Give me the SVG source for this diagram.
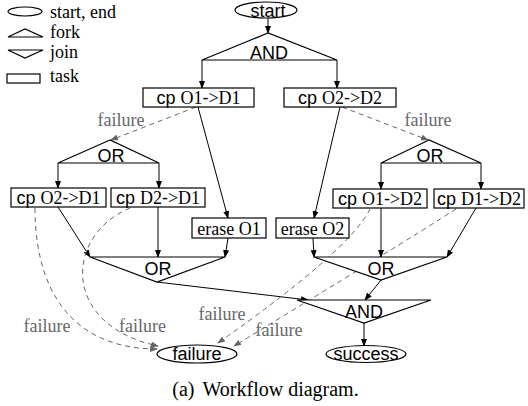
<svg xmlns="http://www.w3.org/2000/svg" width="528" height="406" viewBox="0 0 528 406">
<style>
.sh{fill:#fff;stroke:#000;stroke-width:1.2}
.ln{fill:none;stroke:#000;stroke-width:1}
.dl{fill:none;stroke:#666;stroke-width:1;stroke-dasharray:5,4}
.ss{font-family:"Liberation Sans",Arial,sans-serif;font-size:18px;fill:#000;text-anchor:middle}
.sf{font-family:"Liberation Serif","Times New Roman","DejaVu Serif",serif}
.tb{font-family:"Liberation Sans",Arial,sans-serif;font-size:18px;fill:#000;text-anchor:middle}
.er{font-family:"Liberation Serif","Times New Roman","DejaVu Serif",serif;font-size:18px;fill:#000;text-anchor:middle}
.lg{font-family:"Liberation Serif","Times New Roman","DejaVu Serif",serif;font-size:18px;fill:#000}
.fl{font-family:"Liberation Serif","Times New Roman","DejaVu Serif",serif;font-size:18px;fill:#666;text-anchor:middle}
.cap{font-family:"Liberation Serif","Times New Roman","DejaVu Serif",serif;font-size:20px;fill:#000;text-anchor:middle}
</style>
<defs>
<marker id="a" markerWidth="8" markerHeight="6" refX="7" refY="3" orient="auto" markerUnits="userSpaceOnUse"><path d="M0,0 L8,3 L0,6 z" fill="#000"/></marker>
<marker id="g" markerWidth="8" markerHeight="6" refX="7" refY="3" orient="auto" markerUnits="userSpaceOnUse"><path d="M0,0 L8,3 L0,6 z" fill="#666"/></marker>
</defs>

<g id="legend">
<ellipse class="sh" cx="25" cy="11.5" rx="17" ry="4.5"/>
<text class="lg" x="50" y="18">start, end</text>
<polygon class="sh" points="8,37 25,29 43,37"/>
<text class="lg" x="50" y="38">fork</text>
<polygon class="sh" points="8,50 43,50 25,58"/>
<text class="lg" x="50" y="58">join</text>
<rect class="sh" x="7" y="74" width="33" height="9"/>
<text class="lg" x="50" y="82">task</text>
</g>

<g id="connectors">
<line class="ln" x1="268" y1="18" x2="268" y2="33" marker-end="url(#a)"/>
<line class="ln" x1="202" y1="60" x2="202" y2="88" marker-end="url(#a)"/>
<line class="ln" x1="337" y1="60" x2="337" y2="88" marker-end="url(#a)"/>
<line class="ln" x1="198" y1="107" x2="228" y2="218" marker-end="url(#a)"/>
<line class="ln" x1="340" y1="107" x2="314" y2="218" marker-end="url(#a)"/>
<line class="dl" x1="196" y1="107" x2="111" y2="140" marker-end="url(#g)"/>
<line class="dl" x1="342" y1="107" x2="428" y2="140" marker-end="url(#g)"/>
<line class="ln" x1="58" y1="163" x2="58" y2="188" marker-end="url(#a)"/>
<line class="ln" x1="159" y1="163" x2="159" y2="188" marker-end="url(#a)"/>
<line class="ln" x1="381" y1="163" x2="381" y2="189" marker-end="url(#a)"/>
<line class="ln" x1="481" y1="163" x2="481" y2="189" marker-end="url(#a)"/>
<line class="ln" x1="58" y1="207" x2="90" y2="257" marker-end="url(#a)"/>
<line class="ln" x1="158" y1="207" x2="158" y2="257" marker-end="url(#a)"/>
<line class="ln" x1="228" y1="238" x2="225" y2="257" marker-end="url(#a)"/>
<line class="ln" x1="313" y1="238" x2="314" y2="257" marker-end="url(#a)"/>
<line class="ln" x1="381" y1="208" x2="381" y2="257" marker-end="url(#a)"/>
<line class="ln" x1="476" y1="208" x2="447" y2="257" marker-end="url(#a)"/>
<line class="ln" x1="381" y1="280" x2="365" y2="300" marker-end="url(#a)"/>
<line class="ln" x1="157" y1="282" x2="308" y2="300" marker-end="url(#a)"/>
<line class="ln" x1="364" y1="323" x2="364" y2="346" marker-end="url(#a)"/>
<path class="dl" d="M35,208 C35,300 80,349 157,349" marker-end="url(#g)"/>
<path class="dl" d="M130,208 C65,235 60,325 158,346" marker-end="url(#g)"/>
<path class="dl" d="M370,209 Q350,250 218,343" marker-end="url(#g)"/>
<path class="dl" d="M456,209 Q400,245 234,346" marker-end="url(#g)"/>
<text class="fl" x="121" y="126">failure</text>
<text class="fl" x="428" y="126">failure</text>
<text class="fl" x="47" y="332">failure</text>
<text class="fl" x="142.5" y="332">failure</text>
<text class="fl" x="222" y="320">failure</text>
<text class="fl" x="279" y="336">failure</text>
</g>

<g id="start"><ellipse class="sh" cx="266" cy="10" rx="31" ry="8"/><text class="ss" x="268" y="16.5">start</text></g>
<g id="and-fork"><polygon class="sh" points="268,33 202,60 337,60"/><text class="ss" x="269" y="58.5">AND</text></g>
<g id="cp-o1-d1"><rect class="sh" x="143" y="88" width="111" height="19"/><text class="tb" x="198.5" y="104">cp <tspan class="sf">O1</tspan>-<tspan class="sf">&gt;D1</tspan></text></g>
<g id="cp-o2-d2"><rect class="sh" x="284" y="88" width="112" height="19"/><text class="tb" x="340" y="104">cp <tspan class="sf">O2</tspan>-<tspan class="sf">&gt;D2</tspan></text></g>
<g id="or-fork-left"><polygon class="sh" points="110,140 58,163 159,163"/><text class="ss" x="111" y="162">OR</text></g>
<g id="or-fork-right"><polygon class="sh" points="429,140 381,163 481,163"/><text class="ss" x="430" y="162">OR</text></g>
<g id="cp-o2-d1"><rect class="sh" x="11" y="188" width="95" height="19"/><text class="tb" x="58.5" y="204">cp <tspan class="sf">O2</tspan>-<tspan class="sf">&gt;D1</tspan></text></g>
<g id="cp-d2-d1"><rect class="sh" x="111" y="188" width="94" height="19"/><text class="tb" x="158" y="204">cp <tspan class="sf">D2</tspan>-<tspan class="sf">&gt;D1</tspan></text></g>
<g id="cp-o1-d2"><rect class="sh" x="333" y="189" width="94" height="19"/><text class="tb" x="380" y="205">cp <tspan class="sf">O1</tspan>-<tspan class="sf">&gt;D2</tspan></text></g>
<g id="cp-d1-d2"><rect class="sh" x="434" y="189" width="90" height="19"/><text class="tb" x="479" y="205">cp <tspan class="sf">D1</tspan>-<tspan class="sf">&gt;D2</tspan></text></g>
<g id="erase-o1"><rect class="sh" x="192" y="218" width="74" height="20"/><text class="er" x="229" y="235">erase O1</text></g>
<g id="erase-o2"><rect class="sh" x="276" y="218" width="73" height="20"/><text class="er" x="312.5" y="235">erase O2</text></g>
<g id="or-join-left"><polygon class="sh" points="90,257 225,257 157,282"/><text class="ss" x="158" y="275">OR</text></g>
<g id="or-join-right"><polygon class="sh" points="314,257 447,257 381,280"/><text class="ss" x="381" y="275">OR</text></g>
<g id="and-join"><polygon class="sh" points="297,300 431,300 364,323"/><text class="ss" x="364" y="318">AND</text></g>
<g id="failure"><ellipse class="sh" cx="197" cy="354" rx="40" ry="9"/><text class="ss" x="197" y="359.5">failure</text></g>
<g id="success"><ellipse class="sh" cx="366" cy="354" rx="40" ry="8.5"/><text class="ss" x="366" y="360">success</text></g>

<text class="cap" x="265.5" y="396">(a)<tspan dx="8">Workflow diagram.</tspan></text>
</svg>
